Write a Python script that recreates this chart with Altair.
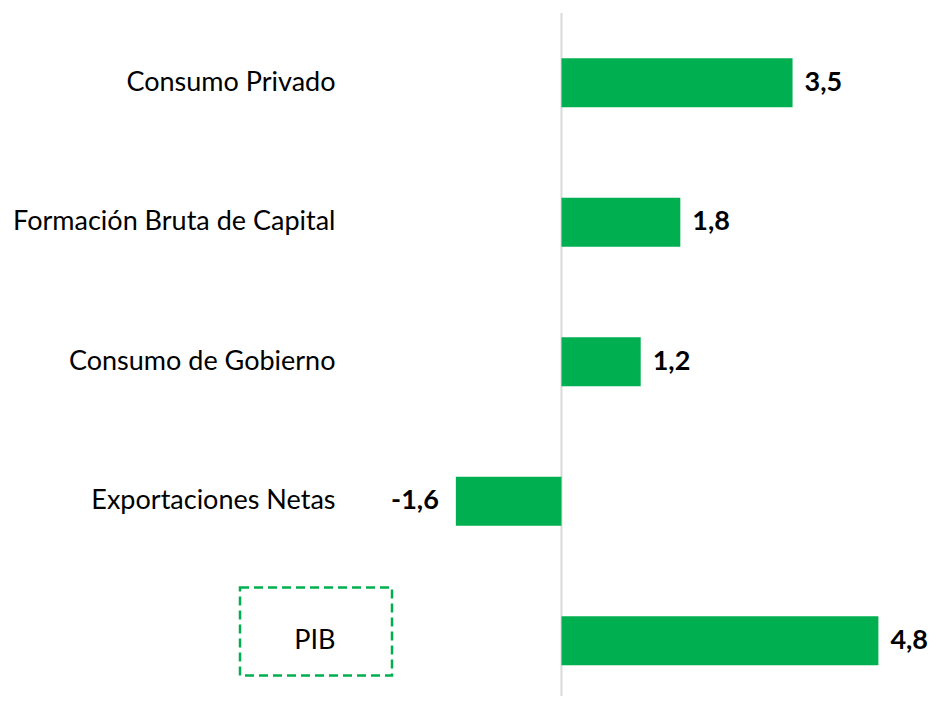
import altair as alt
import pandas as pd

categories = ["Consumo Privado", "Formación Bruta de Capital", "Consumo de Gobierno",
              "Exportaciones Netas", "PIB"]
values = [3.5, 1.8, 1.2, -1.6, 4.8]
labels = ["3,5", "1,8", "1,2", "-1,6", "4,8"]

df = pd.DataFrame({"cat": categories, "val": values, "lab": labels})

W = 581
H = 683
GREEN = "#00B050"
FONT = "Lato"

xs = alt.Scale(domain=[-3.4, 5.4], nice=False, zero=False)
ys = alt.Scale(domain=categories, range=[0, 697.5], paddingInner=0.65, paddingOuter=0.325)

base = alt.Chart(df)

rule = alt.Chart(pd.DataFrame({"z": [0]})).mark_rule(color="#D9D9D9", strokeWidth=2).encode(
    x=alt.X("z:Q", scale=xs, axis=None),
    y=alt.value(0),
    y2=alt.value(H),
)

bars = base.mark_bar(color=GREEN).encode(
    x=alt.X("val:Q", scale=xs, axis=None),
    y=alt.Y("cat:N", sort=categories, scale=ys,
            axis=alt.Axis(title=None, ticks=False, domain=False, grid=False,
                          labelFont=FONT, labelFontSize=27, labelColor="#000000",
                          labelPadding=2, labelLimit=500)),
)

pos_text = base.transform_filter(alt.datum.val >= 0).mark_text(
    align="left", baseline="middle", dx=12, font=FONT, fontSize=27,
    fontWeight="bold", color="#000000"
).encode(
    x=alt.X("val:Q", scale=xs), y=alt.Y("cat:N", sort=categories, scale=ys), text="lab:N"
)

neg_text = base.transform_filter(alt.datum.val < 0).mark_text(
    align="right", baseline="middle", dx=-17, font=FONT, fontSize=27,
    fontWeight="bold", color="#000000"
).encode(
    x=alt.X("val:Q", scale=xs), y=alt.Y("cat:N", sort=categories, scale=ys), text="lab:N"
)

box = alt.Chart(pd.DataFrame({"k": ["PIB"]})).mark_rect(
    filled=False, stroke=GREEN, strokeWidth=2.5, strokeDash=[9, 5]
).encode(
    x=alt.value(-97), x2=alt.value(55), y=alt.value(574.5), y2=alt.value(662.5)
)

chart = alt.layer(rule, bars, pos_text, neg_text, box).properties(
    width=W, height=H,
    autosize=alt.AutoSizeParams(type="none"),
    padding={"left": 329, "top": 5, "right": 10, "bottom": 0},
    background="white",
).configure_view(stroke=None)

chart.save("out.html", embed_options={"renderer": "svg", "actions": False})
